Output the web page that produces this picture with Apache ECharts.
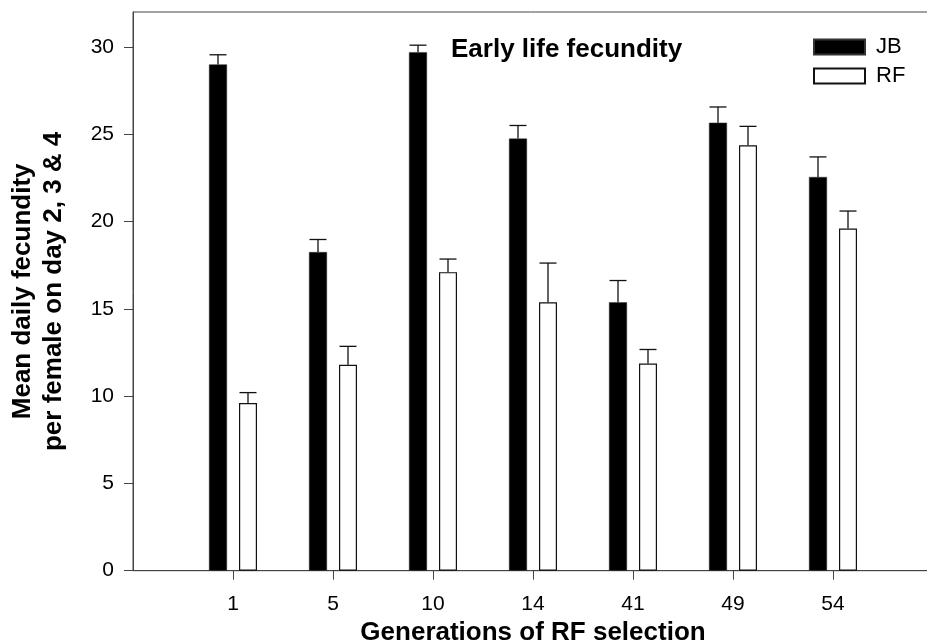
<!DOCTYPE html>
<html>
<head>
<meta charset="utf-8">
<script src="https://cdn.jsdelivr.net/npm/echarts@6/dist/echarts.min.js"></script>
<style>
  html, body { margin: 0; padding: 0; background: #fff; }
  #chart { width: 927px; height: 641px; }
</style>
</head>
<body>
<div id="chart"></div>
<script>
// Generations of RF selection (blank slots pad both ends of the axis)
const generations = ['', '1', '5', '10', '14', '41', '49', '54', ''];
// Mean daily fecundity per female (days 2-4) and standard errors
const jbMean = [null, 29.0, 18.25, 29.7, 24.75, 15.37, 25.66, 22.55, null];
const jbErr  = [null, 0.55, 0.72, 0.40, 0.75, 1.25, 0.90, 1.15, null];
const rfMean = [null, 9.6, 11.8, 17.1, 15.37, 11.87, 24.37, 19.6, null];
const rfErr  = [null, 0.60, 1.05, 0.75, 2.25, 0.80, 1.08, 1.00, null];
const yTicks = [0, 5, 10, 15, 20, 25, 30];

const FONT = 'Liberation Sans, Arial, sans-serif';
const BAR_W = 18;
const BAR_GAP = 12;
const CAP_W = 17;

function errorData(mean, err) {
  const out = [];
  mean.forEach((m, i) => { if (m != null) out.push([i, m, err[i]]); });
  return out;
}

// upward-only error bars, shifted to sit over their bar in the group
function errorRenderer(side) {
  return function (params, api) {
    const i = api.value(0);
    const base = api.coord([i, api.value(1)]);
    const top = api.coord([i, api.value(1) + api.value(2)]);
    const cx = base[0] + side * (BAR_W + BAR_GAP) / 2;
    return {
      type: 'group',
      children: [
        { type: 'line', shape: { x1: cx, y1: base[1], x2: cx, y2: top[1] },
          style: { stroke: '#111', lineWidth: 1.3 } },
        { type: 'line', shape: { x1: cx - CAP_W / 2, y1: top[1], x2: cx + CAP_W / 2, y2: top[1] },
          style: { stroke: '#111', lineWidth: 1.3 } }
      ]
    };
  };
}

const chart = echarts.init(document.getElementById('chart'));
chart.setOption({
  animation: false,
  backgroundColor: '#fff',
  title: {
    text: 'Early life fecundity',
    left: 451, top: 37, padding: 0,
    textStyle: { fontFamily: FONT, fontSize: 26, fontWeight: 'bold', color: '#000' }
  },
  legend: {
    data: ['JB', 'RF'],
    orient: 'vertical',
    left: 813, top: 36, padding: 0,
    itemWidth: 51, itemHeight: 15, itemGap: 7,
    icon: 'rect',
    textStyle: { fontFamily: FONT, fontSize: 22, color: '#000', padding: [0, 0, 0, 6] }
  },
  grid: {
    left: 133, top: 12, width: 800, height: 558.7,
    outerBoundsMode: 'none',
    containLabel: false,
    show: true, borderColor: '#444', borderWidth: 1, backgroundColor: 'transparent'
  },
  xAxis: {
    type: 'category',
    data: generations,
    boundaryGap: false,
    name: 'Generations of RF selection',
    nameLocation: 'middle',
    nameGap: 39,
    nameTextStyle: { fontFamily: FONT, fontSize: 26, fontWeight: 'bold', color: '#000' },
    axisLine: { lineStyle: { color: '#444', width: 1 } },
    axisTick: { length: 9, lineStyle: { color: '#444' }, interval: (i) => i > 0 && i < generations.length - 1 },
    axisLabel: { margin: 23, fontFamily: FONT, fontSize: 21, color: '#000', interval: 0 },
    splitLine: { show: false }
  },
  yAxis: {
    type: 'value',
    min: 0, max: 32, interval: 5,
    name: 'Mean daily fecundity\nper female on day 2, 3 & 4',
    nameLocation: 'middle',
    nameGap: 64,
    nameTextStyle: { fontFamily: FONT, fontSize: 26, fontWeight: 'bold', color: '#000', lineHeight: 31 },
    axisLine: { show: true, lineStyle: { color: '#444', width: 1 } },
    axisTick: { show: true, length: 9, lineStyle: { color: '#444' }, customValues: yTicks },
    axisLabel: { margin: 19, fontFamily: FONT, fontSize: 21, color: '#000', customValues: yTicks },
    splitLine: { show: false }
  },
  series: [
    {
      name: 'JB', type: 'bar', data: jbMean,
      barWidth: BAR_W, barGap: (BAR_GAP / BAR_W * 100).toFixed(1) + '%',
      itemStyle: { color: '#000', borderColor: '#333', borderWidth: 0.5 }
    },
    {
      name: 'RF', type: 'bar', data: rfMean,
      barWidth: BAR_W,
      itemStyle: { color: '#fff', borderColor: '#111', borderWidth: 1.2 }
    },
    { type: 'custom', renderItem: errorRenderer(-1), data: errorData(jbMean, jbErr), z: 3 },
    { type: 'custom', renderItem: errorRenderer(1), data: errorData(rfMean, rfErr), z: 3 }
  ]
});
</script>
</body>
</html>
